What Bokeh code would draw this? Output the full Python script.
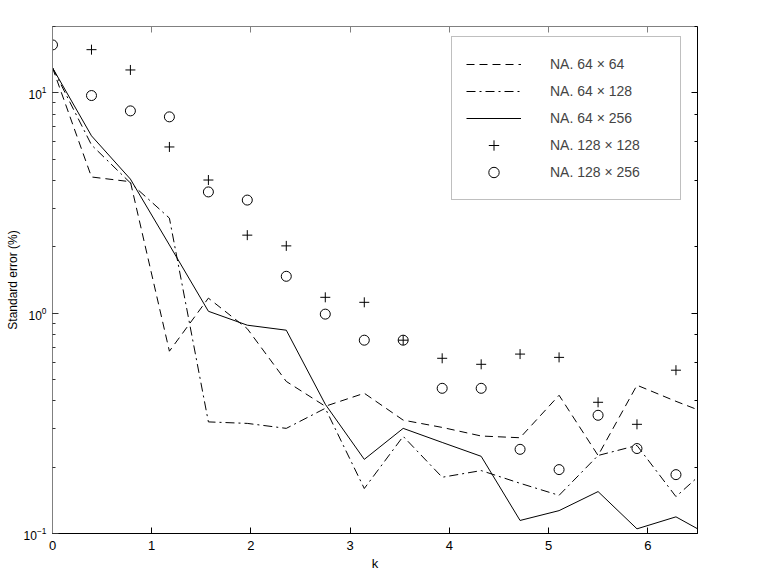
from bokeh.plotting import figure
from bokeh.models import Range1d, LinearAxis, LogAxis, Legend, LegendItem, CustomLabelingPolicy
from bokeh.embed import file_html
from bokeh.resources import INLINE

# k values (pi/8 steps)
k_lines = [0.0, 0.393, 0.785, 1.178, 1.571, 1.963, 2.356, 2.749, 3.142, 3.534,
           3.927, 4.320, 4.712, 5.105, 5.498, 5.890, 6.283, 6.676]
k_128x128 = [0.393, 0.785, 1.178, 1.571, 1.963, 2.356, 2.749, 3.142, 3.534,
             3.927, 4.320, 4.712, 5.105, 5.498, 5.890, 6.283]
k_128x256 = [0.0, 0.393, 0.785, 1.178, 1.571, 1.963, 2.356, 2.749, 3.142, 3.534,
             3.927, 4.320, 4.712, 5.105, 5.498, 5.890, 6.283]

na_64x64 = [13.0, 4.15, 3.95, 0.672, 1.17, 0.85, 0.49, 0.378, 0.433, 0.327,
            0.303, 0.277, 0.272, 0.424, 0.226, 0.471, 0.398, 0.34]
na_64x128 = [13.0, 5.8, 3.9, 2.70, 0.321, 0.316, 0.30, 0.37, 0.160, 0.276,
             0.18, 0.193, 0.169, 0.149, 0.226, 0.251, 0.147, 0.212]
na_64x256 = [13.0, 6.38, 4.06, 2.04, 1.02, 0.882, 0.837, 0.386, 0.217, 0.30,
             0.259, 0.224, 0.1146, 0.127, 0.155, 0.105, 0.119, 0.095]
na_128x128 = [15.7, 12.7, 5.68, 4.02, 2.26, 2.02, 1.18, 1.12, 0.754, 0.624,
              0.586, 0.652, 0.63, 0.394, 0.313, 0.551]
na_128x256 = [16.5, 9.72, 8.28, 7.78, 3.55, 3.26, 1.47, 0.99, 0.754, 0.754,
              0.456, 0.456, 0.241, 0.195, 0.344, 0.243, 0.185]

labels = ["NA. 64 \u00d7 64", "NA. 64 \u00d7 128", "NA. 64 \u00d7 256",
          "NA. 128 \u00d7 128", "NA. 128 \u00d7 256"]
x_ticks = [0, 1, 2, 3, 4, 5, 6]

FONT = "Liberation Sans"

p = figure(frame_width=645, frame_height=507, y_axis_type="log",
           x_range=Range1d(0, 6.5), y_range=Range1d(0.1, 20),
           output_backend="svg", toolbar_location=None,
           min_border_left=52, min_border_right=80, min_border_top=26,
           min_border_bottom=38)
p.outline_line_color = None
p.xgrid.visible = False
p.ygrid.visible = False

r1 = p.line(k_lines, na_64x64, line_color="black", line_width=1, line_dash="8 5")
r2 = p.line(k_lines, na_64x128, line_color="black", line_width=1, line_dash="9 4 2 4")
r3 = p.line(k_lines, na_64x256, line_color="black", line_width=1)
r4 = p.scatter(k_128x128, na_128x128, marker="cross", size=10, line_color="black", line_width=1)
r5 = p.scatter(k_128x256, na_128x256, marker="circle", size=10, line_color="black",
               fill_color=None, line_width=1)

def style_axis(ax, color):
    ax.axis_line_color = color
    ax.major_tick_line_color = color
    ax.minor_tick_line_color = color
    ax.major_tick_in = 6
    ax.major_tick_out = 0
    ax.minor_tick_in = 3
    ax.minor_tick_out = 0
    ax.major_label_text_font = FONT
    ax.major_label_text_font_size = "13px"
    ax.major_label_text_color = "black"
    ax.axis_label_text_font = FONT
    ax.axis_label_text_font_size = "13px"
    ax.axis_label_text_font_style = "normal"
    ax.axis_label_text_color = "black"

xa = p.xaxis[0]
style_axis(xa, "black")
xa.ticker = x_ticks
xa.minor_tick_line_color = None
xa.axis_label = "k"
xa.major_label_standoff = 7
xa.axis_label_standoff = 3

ya = p.yaxis[0]
style_axis(ya, "#808080")
ya.major_tick_line_color = "#333333"
ya.minor_tick_line_color = "#333333"
ya.major_label_text_font_size = "12px"
ya.axis_label = "Standard error (%)"
ya.axis_label_text_font_size = "12px"
ya.major_label_standoff = 6
ya.axis_label_standoff = 1

top = LinearAxis(ticker=x_ticks)
style_axis(top, "#808080")
top.minor_tick_line_color = None
top.major_label_standoff = 0
top.major_label_policy = CustomLabelingPolicy(code="return new Set()")
p.add_layout(top, "above")

right = LogAxis()
style_axis(right, "black")
right.major_label_standoff = 0
right.major_label_policy = CustomLabelingPolicy(code="return new Set()")
p.add_layout(right, "right")

legend = Legend(items=[LegendItem(label=labels[0], renderers=[r1]),
                       LegendItem(label=labels[1], renderers=[r2]),
                       LegendItem(label=labels[2], renderers=[r3]),
                       LegendItem(label=labels[3], renderers=[r4]),
                       LegendItem(label=labels[4], renderers=[r5])],
                location=(399, 333))
legend.border_line_color = "#808080"
legend.border_line_width = 1
legend.background_fill_color = "white"
legend.background_fill_alpha = 1
legend.label_text_font = FONT
legend.label_text_font_size = "14px"
legend.glyph_width = 55
legend.glyph_height = 26
legend.label_height = 26
legend.label_width = 116
legend.spacing = 1
legend.padding = 14
legend.margin = 0
legend.label_standoff = 29
p.add_layout(legend, "center")

open("out.html", "w").write(file_html(p, INLINE))
